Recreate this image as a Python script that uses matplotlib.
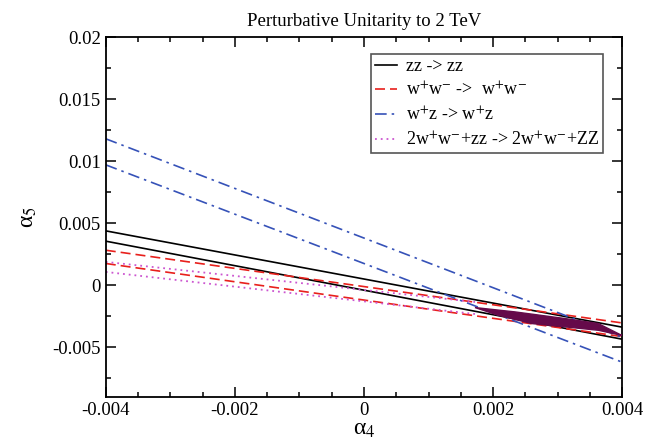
import numpy as np
import matplotlib
matplotlib.use("Agg")
import matplotlib.pyplot as plt

plt.rcParams['font.family'] = ['Liberation Serif', 'DejaVu Serif']
plt.rcParams['mathtext.fontset'] = 'stix'
plt.rcParams['axes.unicode_minus'] = False

# line end points (alpha4 -> alpha5)
x_ends = [-0.004, 0.004]
zz_upper = [0.00438, -0.00338]
zz_lower = [0.00355, -0.00435]
ww_upper = [0.00282, -0.00304]
ww_lower = [0.00175, -0.00414]
wz_upper = [0.0118, -0.0042]
wz_lower = [0.0097, -0.0062]
comb_x = [-0.004, 0.00172]
comb_upper = [0.00188, -0.00135]
comb_lower = [0.00107, -0.00232]

# allowed region
region_x = [0.00172, 0.00234, 0.00312, 0.00363, 0.00397, 0.00400,
            0.00363, 0.00312, 0.00260, 0.00208]
region_y = [-0.00180, -0.00215, -0.00269, -0.00309, -0.00398, -0.00405,
            -0.00363, -0.00336, -0.00309, -0.00242]

labels = ["zz -> zz",
          r"w$^{+}$w$^{-}$ ->  w$^{+}$w$^{-}$",
          r"w$^{+}$z -> w$^{+}$z",
          r"2w$^{+}$w$^{-}$+zz -> 2w$^{+}$w$^{-}$+ZZ"]

fig = plt.figure(figsize=(6.57, 4.41), dpi=100)
ax = fig.add_axes([0.161, 0.100, 0.786, 0.816])

blue = '#3652b8'
red = '#e8201c'
pink = '#cc55d0'

ax.plot(x_ends, zz_upper, color='black', lw=1.2, label=labels[0])
ax.plot(x_ends, zz_lower, color='black', lw=1.2)
ax.plot(x_ends, ww_upper, color=red, lw=1.2, dashes=(6, 3), label=labels[1])
ax.plot(x_ends, ww_lower, color=red, lw=1.2, dashes=(6, 3))
ax.plot(x_ends, wz_upper, color=blue, lw=1.2, dashes=(7, 3, 1.5, 3), label=labels[2])
ax.plot(x_ends, wz_lower, color=blue, lw=1.2, dashes=(7, 3, 1.5, 3))
ax.plot(comb_x, comb_upper, color=pink, lw=1.3, dashes=(1, 2.2), label=labels[3])
ax.plot(comb_x, comb_lower, color=pink, lw=1.3, dashes=(1, 2.2))

ax.fill(region_x, region_y, color='#650a4a', zorder=5)

ax.set_xlim(-0.004, 0.004)
ax.set_ylim(-0.009, 0.02)
ax.set_xticks([-0.004, -0.002, 0, 0.002, 0.004])
ax.set_xticklabels(["-0.004", "-0.002", "0", "0.002", "0.004"])
ax.set_xticks(np.arange(-0.004, 0.0041, 0.0005), minor=True)
ax.set_yticks([-0.005, 0, 0.005, 0.01, 0.015, 0.02])
ax.set_yticklabels(["-0.005", "0", "0.005", "0.01", "0.015", "0.02"])
ax.set_yticks(np.arange(-0.0075, 0.0201, 0.0025), minor=True)
ax.tick_params(which='both', direction='in', top=True, right=True, labelsize=13.5, width=1.1)
ax.tick_params(which='major', length=7)
ax.tick_params(which='minor', length=3.5)
for s in ax.spines.values():
    s.set_linewidth(1.3)

ax.set_xlabel("α$_4$", fontsize=17, labelpad=0)
ax.set_ylabel("α$_5$", fontsize=17, labelpad=10)
ax.set_title("Perturbative Unitarity to 2 TeV", fontsize=13.5, pad=8)

leg = ax.legend(loc='upper right', bbox_to_anchor=(0.962, 0.952), fontsize=13,
                fancybox=False, framealpha=1, edgecolor='#555555',
                handlelength=1.2, handletextpad=0.5, labelspacing=0.35,
                borderpad=0.2, borderaxespad=0)
leg.get_frame().set_linewidth(1.2)

fig.savefig("out.png", dpi=100)
